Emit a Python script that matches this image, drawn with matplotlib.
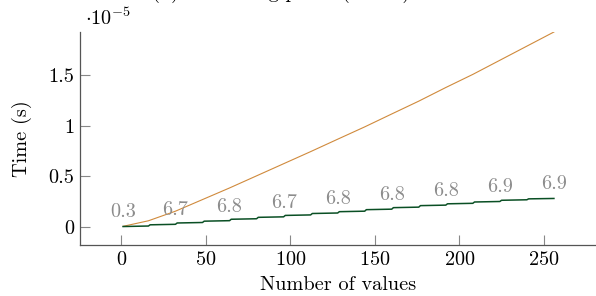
import numpy as np
import matplotlib
matplotlib.use("Agg")
import matplotlib.pyplot as plt
from matplotlib.ticker import FuncFormatter

plt.rcParams['font.family'] = ['cmr10', 'DejaVu Serif']
plt.rcParams['mathtext.fontset'] = 'cm'
plt.rcParams['axes.formatter.use_mathtext'] = True
fs = 14.6

# data (seconds)
orange_x = [1, 16, 32, 48, 64, 80, 96, 112, 128, 144, 160, 176, 192, 208, 224, 240, 256]
orange_y = [0.005e-5, 0.06e-5, 0.155e-5, 0.27e-5, 0.385e-5, 0.505e-5, 0.625e-5, 0.745e-5,
            0.868e-5, 0.99e-5, 1.118e-5, 1.245e-5, 1.38e-5, 1.51e-5, 1.65e-5, 1.79e-5, 1.93e-5]

green_x = [1, 16, 17, 32, 33, 48, 49, 64, 65, 80, 81, 96, 97, 112, 113, 128,
           129, 144, 145, 160, 161, 176, 177, 192, 193, 208, 209, 224, 225, 240, 241, 256]
green_y = [0.003e-5, 0.008e-5, 0.020e-5, 0.025e-5, 0.038e-5, 0.043e-5, 0.056e-5, 0.061e-5,
           0.075e-5, 0.080e-5, 0.094e-5, 0.099e-5, 0.113e-5, 0.118e-5, 0.132e-5, 0.137e-5,
           0.150e-5, 0.155e-5, 0.170e-5, 0.175e-5, 0.190e-5, 0.195e-5, 0.210e-5, 0.215e-5,
           0.228e-5, 0.233e-5, 0.246e-5, 0.251e-5, 0.263e-5, 0.268e-5, 0.277e-5, 0.281e-5]

label_x = [1, 32, 64, 96, 128, 160, 192, 224, 256]
label_txt = ['0.3', '6.7', '6.8', '6.7', '6.8', '6.8', '6.8', '6.9', '6.9']

fig = plt.figure(figsize=(5.96, 2.96), dpi=100)
ax = fig.add_axes([80/596, 1-245/296, 517/596, 213/296])

ax.plot(orange_x, orange_y, color='#d08a3c', lw=0.8)
ax.plot(green_x, green_y, color='#0a4f24', lw=1.1)

# labels above the green series
label_y = np.interp(label_x, green_x, green_y)
for lx, ly, t in zip(label_x, label_y, label_txt):
    ax.annotate(t, (lx, ly), xytext=(0, 6.5), textcoords='offset points',
                ha='center', va='baseline', color='#8c8c8c', fontsize=fs)

ax.set_xlim(-24.5, 281.5)
ax.set_ylim(-0.18e-5, 1.93e-5)
ax.set_xticks([0, 50, 100, 150, 200, 250])
ax.set_yticks([0, 0.5e-5, 1e-5, 1.5e-5])
ax.yaxis.set_major_formatter(FuncFormatter(lambda v, p: '%g' % round(v / 1e-5, 3)))

for s in ['top', 'right']:
    ax.spines[s].set_visible(False)
for s in ['left', 'bottom']:
    ax.spines[s].set_color('#555555')
    ax.spines[s].set_linewidth(0.9)
ax.tick_params(direction='in', length=7, width=0.8, color='#888888', pad=4, labelsize=fs)

fig.text(85/596, 1-25/296, r'$\cdot 10^{-5}$', ha='left', va='baseline', fontsize=fs)
fig.text(338/596, 1-285/296, 'Number of values', ha='center', va='center', fontsize=fs)
fig.text(22/596, 1-139/296, 'Time (s)', ha='center', va='center', rotation=90, fontsize=fs)
# title sits mostly above the top edge, as in the reference
fig.text(281/596, 1+2/296, '(b) Processing phase (server)', ha='center', va='baseline', fontsize=fs)

fig.savefig('out.png', dpi=100)
